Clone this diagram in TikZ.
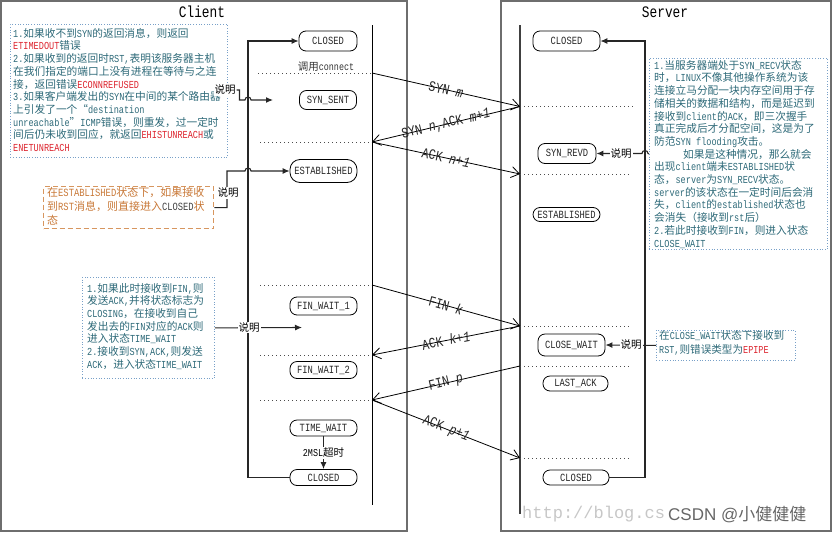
\documentclass[tikz,border=0pt]{standalone}
\usepackage{fontspec}
\setmainfont[FakeStretch=0.8]{Liberation Mono}
\newfontfamily\cjkfont{Noto Sans CJK SC}
\newfontfamily\latfont[FakeStretch=0.8]{Liberation Mono}
\newfontfamily\urlfont{Liberation Mono}
\newfontfamily\wmfont{Liberation Sans}
\usetikzlibrary{arrows.meta}

\XeTeXinterchartokenstate=1
\chardef\CJKcls=10
\newcount\cjkcnt
\def\setcjkrange#1#2{\cjkcnt=#1\relax
  \loop\XeTeXcharclass\cjkcnt=\CJKcls\relax
  \ifnum\cjkcnt<#2\relax\advance\cjkcnt by 1\relax\repeat}
\setcjkrange{"3000}{"303F}
\setcjkrange{"4E00}{"9FFF}
\setcjkrange{"FF00}{"FFEF}
\XeTeXcharclass"201C=\CJKcls
\XeTeXcharclass"201D=\CJKcls
\XeTeXinterchartoks 0 \CJKcls = {\cjkfont}
\XeTeXinterchartoks 4095 \CJKcls = {\cjkfont}
\XeTeXinterchartoks \CJKcls 0 = {\latfont}
\XeTeXinterchartoks 4095 0 = {\latfont}

\definecolor{noteteal}{RGB}{45,105,120}
\definecolor{errred}{RGB}{220,35,45}
\definecolor{boxblue}{RGB}{120,160,200}
\definecolor{orangebox}{RGB}{215,150,95}
\definecolor{orangetext}{RGB}{200,120,55}
\definecolor{framegray}{RGB}{110,110,110}
\newcommand\er[1]{\textcolor{errred}{#1}}

\begin{document}
\begin{tikzpicture}[x=1pt,y=-1pt,
  every node/.style={inner sep=0pt},
  frame/.style={draw=framegray,line width=1.8pt},
  life/.style={line width=0.9pt},
  sep/.style={draw=black!70,line width=0.9pt,dash pattern=on 1pt off 3pt},
  st/.style={draw=black,line width=0.8pt,rectangle,rounded corners=7pt,text=black!85,font=\fontsize{11}{12}\selectfont},
  msg/.style={line width=0.8pt,-{Straight Barb[length=8pt,width=11pt,line width=0.8pt]}},
  mlab/.style={sloped,font=\fontsize{14.5}{14.5}\selectfont,text=black!85},
  nbox/.style={draw=boxblue,line width=0.8pt,dash pattern=on 0.9pt off 1.8pt,anchor=north west},
  obox/.style={draw=orangebox,line width=1.3pt,dash pattern=on 5pt off 3pt,anchor=north west},
  ntext/.style={anchor=north west,align=left,text=noteteal,font=\fontsize{10.7}{12.7}\selectfont},
  lbl/.style={fill=white,inner sep=1pt,font=\fontsize{10.5}{12}\selectfont},
  conn/.style={line width=1.1pt,draw=black!85},
  ptr/.style={-{Latex[length=7pt,width=6pt]}}]
\useasboundingbox (0,0) rectangle (832,533);

% frames and titles
\draw[frame] (1,1) rectangle (407,531);
\draw[frame] (501,1) rectangle (831,531);
\node[font=\fontsize{16}{16}\selectfont] (tc) at (202,12) {Client};
\node[font=\fontsize{16}{16}\selectfont] (ts) at (665,12) {Server};

% watermark
\node[anchor=west,text=black!22,font=\fontsize{17}{17}\selectfont] (wm1) at (522,514) {\XeTeXinterchartokenstate=0 \urlfont http://blog.cs};
\node[anchor=west,text=black!60,font=\fontsize{17}{17}\selectfont] (wm2) at (668,515) {\XeTeXinterchartokenstate=0 \wmfont CSDN @\cjkfont 小健健健};

% lifelines
\coordinate (ct) at (372,25); \coordinate (cb) at (372,505);
\coordinate (stp) at (520,25); \coordinate (sb) at (520,514);
\draw[life] (ct) -- (cb);
\draw[life,draw=black!75,line width=1.3pt] (stp) -- (sb);

% message points
\coordinate (c1) at (372,73);
\coordinate (s1) at (520,106.5);
\coordinate (c2) at (372,142);
\coordinate (s3) at (520,174);
\coordinate (c4) at (372,285);
\coordinate (s4) at (520,326);
\coordinate (c5) at (372,355);
\coordinate (s6) at (520,366);
\coordinate (c6) at (372,400);
\coordinate (s7) at (520,458);

% separators
\draw[sep] (258,73) -- (c1);
\draw[sep] (260,142) -- (c2);
\draw[sep] (260,285) -- (c4);
\draw[sep] (260,355) -- (c5);
\draw[sep] (260,400) -- (c6);
\draw[sep] (s1) -- (634,106.5);
\draw[sep] (s3) -- (632,174);
\draw[sep] (s4) -- (630,326);
\draw[sep] (s6) -- (630,366);
\draw[sep] (s7) -- (630,458);

\node[font=\fontsize{10.5}{12}\selectfont,text=black!80] (conn) at (326,67) {调用connect};

% messages
\draw[msg] (c1) -- node[mlab]{SYN \textit{m}} (s1);
\draw[msg] (s1) -- node[mlab]{SYN \textit{n},ACK \textit{m+1}} (c2);
\draw[msg] (c2) -- node[mlab]{ACK \textit{n+1}} (s3);
\draw[msg] (c4) -- node[mlab]{FIN \textit{k}} (s4);
\draw[msg] (s4) -- node[mlab]{ACK \textit{k+1}} (c5);
\draw[msg] (s6) -- node[mlab]{FIN \textit{p}} (c6);
\draw[msg] (c6) -- node[mlab]{ACK \textit{p+1}} (s7);

% client states
\node[st,minimum width=58pt,minimum height=20pt] (cC1) at (328,41) {CLOSED};
\node[st,minimum width=57pt,minimum height=19pt] (cSS) at (328,100) {SYN\_SENT};
\node[st,minimum width=67pt,minimum height=23pt,rounded corners=10pt] (cES) at (323.5,171) {ESTABLISHED};
\node[st,minimum width=67pt,minimum height=18pt] (cF1) at (323.5,306) {FIN\_WAIT\_1};
\node[st,minimum width=67pt,minimum height=17pt] (cF2) at (323.5,370) {FIN\_WAIT\_2};
\node[st,minimum width=67pt,minimum height=16pt] (cTW) at (323.5,428) {TIME\_WAIT};
\node[st,minimum width=67pt,minimum height=16pt] (cC2) at (323.5,477.5) {CLOSED};

% server states
\node[st,minimum width=67pt,minimum height=20pt] (sC1) at (566.5,41) {CLOSED};
\node[st,minimum width=58pt,minimum height=20pt] (sSR) at (567,153.5) {SYN\_REVD};
\node[st,minimum width=67pt,minimum height=14pt] (sES) at (566.5,214.5) {ESTABLISHED};
\node[st,minimum width=67pt,minimum height=22pt] (sCW) at (571.5,345) {CLOSE\_WAIT};
\node[st,minimum width=65pt,minimum height=15pt] (sLA) at (575.5,383.5) {LAST\_ACK};
\node[st,minimum width=66pt,minimum height=15pt] (sC2) at (576,477.5) {CLOSED};

% state loops
\coordinate (cl) at (248,0);
\coordinate (sr) at (645,0);
\draw[conn,ptr] (cC2.west) -- (cC2.west -| cl) -- (cC1.west -| cl) -- (cC1.west);
\draw[conn,ptr] (sC2.east) -- (sC2.east -| sr) -- (sC1.east -| sr) -- (sC1.east);
\draw[conn,ptr] (cTW.south) -- node[lbl]{2MSL超时} (cC2.north);

% note boxes
\node[nbox,minimum width=217pt,minimum height=133pt] (b1) at (10,24) {};
\node[ntext] (t1) at (13,28) {1.如果收不到SYN的返回消息，则返回\\
\er{ETIMEDOUT}错误\\
2.如果收到的返回时RST,表明该服务器主机\\
在我们指定的端口上没有进程在等待与之连\\
接，返回错误\er{ECONNREFUSED}\\
3.如果客户端发出的SYN在中间的某个路由器\\
上引发了一个“destination\\
unreachable”ICMP错误，则重发，过一定时\\
间后仍未收到回应，就返回\er{EHISTUNREACH}或\\
\er{ENETUNREACH}};

\node[obox,minimum width=170pt,minimum height=42pt] (b2) at (43,186) {};
\node[ntext,text=orangetext,font=\fontsize{11}{14}\selectfont] (t2) at (47,187) {在ESTABLISHED状态下，如果接收\\
到RST消息，则直接进入\textcolor{black!75}{CLOSED}状\\
态};

\node[nbox,minimum width=132pt,minimum height=101pt] (b3) at (82,277) {};
\node[ntext] (t3) at (87,283) {1.如果此时接收到FIN,则\\
发送ACK,并将状态标志为\\
CLOSING，在接收到自己\\
发出去的FIN对应的ACK则\\
进入状态TIME\_WAIT\\
2.接收到SYN,ACK,则发送\\
ACK，进入状态TIME\_WAIT};

\node[nbox,minimum width=178pt,minimum height=191pt] (b4) at (649,58) {};
\node[ntext] (t4) at (654,60) {1.当服务器端处于SYN\_RECV状态\\
时，LINUX不像其他操作系统为该\\
连接立马分配一块内存空间用于存\\
储相关的数据和结构，而是延迟到\\
接收到client的ACK，即三次握手\\
真正完成后才分配空间，这是为了\\
防范SYN flooding攻击。\\
\hspace*{29pt}如果是这种情况，那么就会\\
出现client端未ESTABLISHED状\\
态，server为SYN\_RECV状态。\\
server的该状态在一定时间后会消\\
失，client的established状态也\\
会消失（接收到rst后）\\
2.若此时接收到FIN，则进入状态\\
CLOSE\_WAIT};

\node[nbox,minimum width=139pt,minimum height=30pt] (b5) at (656,330) {};
\node[ntext,font=\fontsize{10.6}{14}\selectfont] (t5) at (659,330.5) {在CLOSE\_WAIT状态下接收到\\
RST,则错误类型为\er{EPIPE}};

% explanation connectors
\node[lbl] (sm1) at (225,90) {说明};
\coordinate (a1) at (273,100);
\draw[conn,ptr] (sm1.east) -- (239.5,90) -- (239.5,100) -- (245,100) arc[start angle=180,end angle=0,radius=3pt] -- (a1);

\coordinate (k2) at (227,171);
\draw[conn,ptr] (b2.east) -- (b2.east -| k2) -- (k2) -- (245,171) arc[start angle=180,end angle=0,radius=3pt] -- (cES.west);
\node[lbl] (sm2) at (228,193) {说明};

\coordinate (a3) at (302,327.5);
\draw[conn,ptr] (b3.east) -- (a3);
\node[lbl] (sm3) at (249,327.5) {说明};

\draw[conn,ptr] (b4.west) -- (648,153.5) arc[start angle=0,end angle=180,radius=3pt] -- (sSR.east);
\node[lbl] (sm4) at (621,153.5) {说明};

\draw[conn,ptr] (b5.west) -- (sCW.east);
\node[lbl] (sm5) at (631,345) {说明};
\end{tikzpicture}
\end{document}
